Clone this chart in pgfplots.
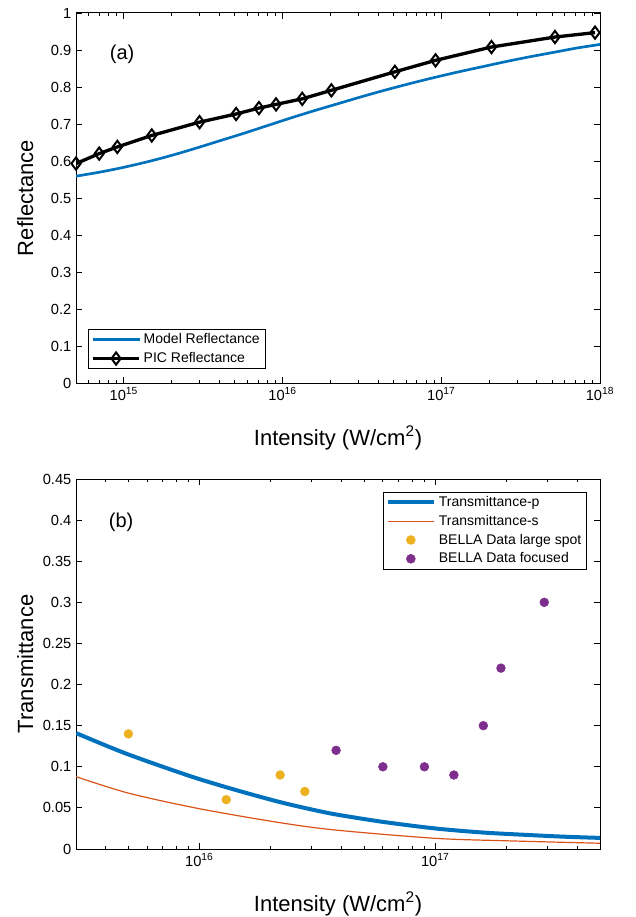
\documentclass[border=0pt]{standalone}
\usepackage{pgfplots}
\pgfplotsset{compat=1.18}
\usepackage{fontspec}
\setmainfont{Liberation Sans}

\definecolor{mblue}{rgb}{0,0.447,0.741}
\definecolor{morange}{rgb}{0.85,0.325,0.098}
\definecolor{myellow}{rgb}{0.929,0.694,0.125}
\definecolor{mpurple}{rgb}{0.494,0.184,0.556}

\pgfplotsset{
  matfig/.style={
    scale only axis, width=393pt, height=277.5pt,
    tick align=inside,
    major tick length=4.5pt, minor tick length=2.5pt,
    every tick/.style={black, line width=0.6pt},
    axis line style={line width=0.75pt},
    tick label style={font=\fontsize{11}{13}\selectfont,
      /pgf/number format/assume math mode=true},
    yticklabel style={/pgf/number format/fixed, /pgf/number format/precision=2},
    every axis x label/.style={at={(axis description cs:0.5,-0.1676)}, anchor=base,
      font=\fontsize{16.5}{19}\selectfont},
    every axis y label/.style={at={(axis description cs:-0.082,0.5)}, rotate=90, anchor=base,
      font=\fontsize{16.5}{19}\selectfont},
    xlabel={Intensity (W/cm\textsuperscript{2})},
    legend style={font=\fontsize{10.5}{12.5}\selectfont, draw=black, line width=0.5pt,
      fill=white, inner xsep=2pt, inner ysep=1pt, row sep=1pt},
    legend cell align=left,
    clip mode=individual,
  },
  legend image code/.code={\draw[mark repeat=2,mark phase=2,#1]
      plot coordinates {(0pt,0pt) (17.5pt,0pt) (35pt,0pt)};},
}

\begin{document}
\begin{tikzpicture}
% (a) reflectance
\begin{semilogxaxis}[matfig, name=top, at={(0,0)}, anchor=south west,
    xmin=5e14, xmax=1e18, ymin=0, ymax=1,
    xtick={1e15,1e16,1e17,1e18},
    xticklabels={10\textsuperscript{15},10\textsuperscript{16},10\textsuperscript{17},10\textsuperscript{18}},
    minor xtick={6e14,7e14,8e14,9e14,2e15,3e15,4e15,5e15,6e15,7e15,8e15,9e15,
      2e16,3e16,4e16,5e16,6e16,7e16,8e16,9e16,2e17,3e17,4e17,5e17,6e17,7e17,8e17,9e17},
    ytick={0,0.1,0.2,0.3,0.4,0.5,0.6,0.7,0.8,0.9,1},
    ylabel={Reflectance},
    legend style={at={(rel axis cs:0.023,0.038)}, anchor=south west},
]
\addplot[mblue, line width=2pt, smooth] coordinates {
  (5e14,0.559) (7.08e14,0.570) (1e15,0.583) (1.413e15,0.598) (1.995e15,0.615)
  (2.818e15,0.634) (3.981e15,0.654) (5.623e15,0.674) (7.943e15,0.695)
  (1.122e16,0.716) (1.585e16,0.736) (2.239e16,0.755) (3.162e16,0.774)
  (4.467e16,0.792) (6.31e16,0.809) (8.913e16,0.825) (1.259e17,0.840)
  (1.778e17,0.854) (2.512e17,0.868) (3.548e17,0.881) (5.012e17,0.893)
  (7.079e17,0.905) (1e18,0.915)
};
\addlegendentry{Model Reflectance}
\addplot[black, line width=2.5pt, mark=diamond, mark size=4.6pt,
    mark options={solid, line width=1.5pt}] coordinates {
  (5e14,0.593) (7e14,0.620) (9.1e14,0.638) (1.5e15,0.669) (3e15,0.705)
  (5.1e15,0.727) (7.1e15,0.743) (9.1e15,0.753) (1.33e16,0.768) (2.03e16,0.791)
  (5.1e16,0.841) (9.2e16,0.872) (2.07e17,0.908) (5.2e17,0.935) (9.3e17,0.947)
};
\addlegendentry{PIC Reflectance}
\node[font=\fontsize{15}{18}\selectfont] at (rel axis cs:0.088,0.888) {(a)};
\end{semilogxaxis}

% (b) transmittance
\begin{semilogxaxis}[matfig, name=bot, at={(0pt,-72pt)}, anchor=north west,
    xmin=3e15, xmax=5e17, ymin=0, ymax=0.45,
    xtick={1e16,1e17},
    xticklabels={10\textsuperscript{16},10\textsuperscript{17}},
    minor xtick={4e15,5e15,6e15,7e15,8e15,9e15,
      2e16,3e16,4e16,5e16,6e16,7e16,8e16,9e16,2e17,3e17,4e17},
    ytick={0,0.05,0.1,0.15,0.2,0.25,0.3,0.35,0.4,0.45},
    ylabel={Transmittance},
    legend style={at={(rel axis cs:0.975,0.965)}, anchor=north east},
]
\addplot[mblue, line width=3pt, smooth] coordinates {
  (3e15,0.141) (4e15,0.126) (5e15,0.115) (7e15,0.100) (1e16,0.085)
  (1.5e16,0.070) (2.2e16,0.057) (3e16,0.048) (3.8e16,0.042) (6e16,0.033)
  (1e17,0.025) (1.6e17,0.020) (2.5e17,0.017) (3.5e17,0.015) (5e17,0.0135)
};
\addlegendentry{Transmittance-p}
\addplot[morange, line width=0.9pt, smooth] coordinates {
  (3e15,0.088) (5e15,0.068) (1e16,0.049) (2.2e16,0.032) (3.8e16,0.023)
  (1e17,0.013) (2e17,0.010) (5e17,0.007)
};
\addlegendentry{Transmittance-s}
\addplot[only marks, mark=*, mark size=3.3pt, myellow, mark options={draw=myellow, fill=myellow}] coordinates {
  (5e15,0.14) (1.3e16,0.06) (2.2e16,0.09) (2.8e16,0.07)
};
\addlegendentry{BELLA Data large spot}
\addplot[only marks, mark=*, mark size=3.3pt, mpurple, mark options={draw=mpurple, fill=mpurple}] coordinates {
  (3.8e16,0.12) (6e16,0.10) (9e16,0.10) (1.2e17,0.09) (1.6e17,0.15)
  (1.9e17,0.22) (2.9e17,0.30)
};
\addlegendentry{BELLA Data focused}
\node[font=\fontsize{15}{18}\selectfont] at (rel axis cs:0.086,0.884) {(b)};
\end{semilogxaxis}

\pgfresetboundingbox
\path[use as bounding box] ([xshift=-57pt,yshift=9.75pt]top.north west)
  rectangle ([xshift=27pt,yshift=-51pt]bot.south east);
\end{tikzpicture}
\end{document}
